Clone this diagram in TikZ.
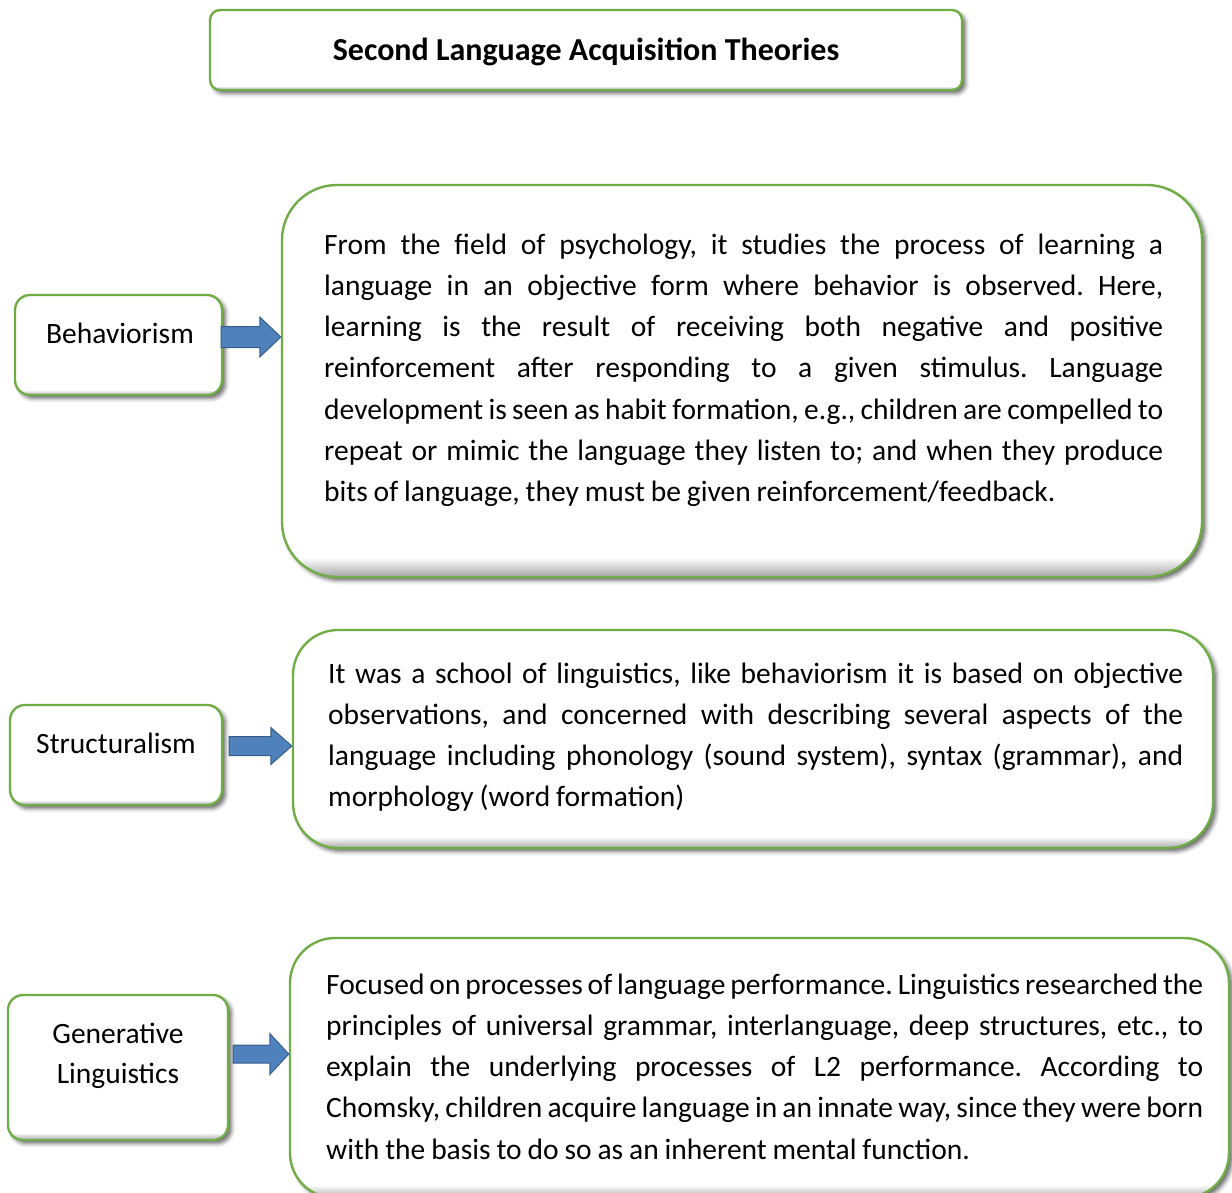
\documentclass[tikz,border=0pt]{standalone}
\usepackage{fontspec}
\setmainfont{Carlito}
\usetikzlibrary{shadows.blur,calc}

\definecolor{boxgreen}{RGB}{112,173,71}
\definecolor{arrowblue}{RGB}{79,129,189}
\definecolor{arrowedge}{RGB}{56,93,138}

% white face with a thin grey bevel along the bottom edge
\pgfdeclareverticalshading{bevel}{100bp}{color(0bp)=(black!35); color(25bp)=(black!35); color(27.5bp)=(white); color(100bp)=(white)}

% tight, flexible interword spacing for the panel texts
\newcommand\bodyspace{\frenchspacing\spaceskip=0.2em plus 10em minus 0.18em\relax\xspaceskip=\spaceskip\relax}
% one fully justified line of a panel
\newcommand\jline[1]{\makebox[\linewidth][s]{#1}}

% block arrow: #1 from node, #2 to node, #3 y, #4 gap, #5 shaft half height, #6 head half height, #7 head length
\newcommand\blockarrow[7]{%
  \draw[barrow] let \p1=(#1.east |- 0,#3), \p2=(#2.west |- 0,#3) in
    (\x1+#4pt,\y1+#5pt) -- (\x2-#7pt,\y1+#5pt) -- (\x2-#7pt,\y1+#6pt) -- (\x2,\y1)
    -- (\x2-#7pt,\y1-#6pt) -- (\x2-#7pt,\y1-#5pt) -- (\x1+#4pt,\y1-#5pt) -- cycle;}

\begin{document}
\begin{tikzpicture}[x=1pt,y=-1pt,
  panel/.style={draw=boxgreen, line width=2.4pt, shading=bevel,
    blur shadow={shadow xshift=3.5pt, shadow yshift=-3.5pt, shadow blur radius=4pt, shadow opacity=60},
    inner sep=0pt},
  lbl/.style={font=\fontsize{29.5}{40}\selectfont, align=center},
  bodytext/.style={inner sep=0pt, align=justify, font=\fontsize{29.5}{41.3}\selectfont},
  barrow/.style={fill=arrowblue, draw=arrowedge, line width=1pt, line join=miter}]

\useasboundingbox (0,0) rectangle (1232,1192);

% title
\node[panel, rounded corners=10pt, minimum width=752pt, minimum height=80pt,
      font=\fontsize{32}{36}\selectfont\bfseries,
      label={[font=\fontsize{32}{36}\selectfont\bfseries, yshift=-1.5pt]center:Second Language Acquisition Theories}]
  (title) at (586,50) {};

% theory labels
\node[panel, rounded corners=15pt, minimum width=207pt, minimum height=100pt,
      label={[lbl, xshift=1.5pt, yshift=12pt]center:Behaviorism}] (beh) at (118.5,345) {};
\node[panel, rounded corners=15pt, minimum width=212pt, minimum height=100pt,
      label={[lbl, yshift=12pt]center:Structuralism}] (str) at (116,755) {};
\node[panel, rounded corners=15pt, minimum width=220pt, minimum height=145pt,
      label={[lbl, yshift=11.5pt]center:{Generative\\Linguistics}}] (gen) at (118,1067.5) {};

% description panels
\node[panel, rounded corners=55pt, minimum width=920pt, minimum height=392pt] (b1) at (742,381) {};
\node[panel, rounded corners=45pt, minimum width=920pt, minimum height=218pt] (b2) at (753,739) {};
\node[panel, rounded corners=45pt, minimum width=939pt, minimum height=260pt] (b3) at (759.5,1068) {};

\node[bodytext, text width=839pt, anchor=base west] (t1) at (324,254) {\bodyspace
\jline{From the field of psychology, it studies the process of learning a}\\
\jline{language in an objective form where behavior is observed. Here,}\\
\jline{learning is the result of receiving both negative and positive}\\
\jline{reinforcement after responding to a given stimulus. Language}\\
\jline{development is seen as habit formation, e.g., children are compelled to}\\
\jline{repeat or mimic the language they listen to; and when they produce}\\
bits of language, they must be given reinforcement/feedback.};

\node[bodytext, text width=855pt, anchor=base west] (t2) at (328,683) {\bodyspace
\jline{It was a school of linguistics, like behaviorism it is based on objective}\\
\jline{observations, and concerned with describing several aspects of the}\\
\jline{language including phonology (sound system), syntax (grammar), and}\\
morphology (word formation)};

\node[bodytext, text width=877pt, anchor=base west] (t3) at (326,994) {\bodyspace
\jline{Focused on processes of language performance. Linguistics researched the}\\
\jline{principles of universal grammar, interlanguage, deep structures, etc., to}\\
\jline{explain the underlying processes of L2 performance. According to}\\
\jline{Chomsky, children acquire language in an innate way, since they were born}\\
with the basis to do so as an inherent mental function.};

% arrows from each label to its panel
\blockarrow{beh}{b1}{337}{-2}{10.5}{20}{21}
\blockarrow{str}{b2}{746}{6}{9.5}{18.5}{21}
\blockarrow{gen}{b3}{1054}{4}{9}{20.5}{19}

\end{tikzpicture}
\end{document}
